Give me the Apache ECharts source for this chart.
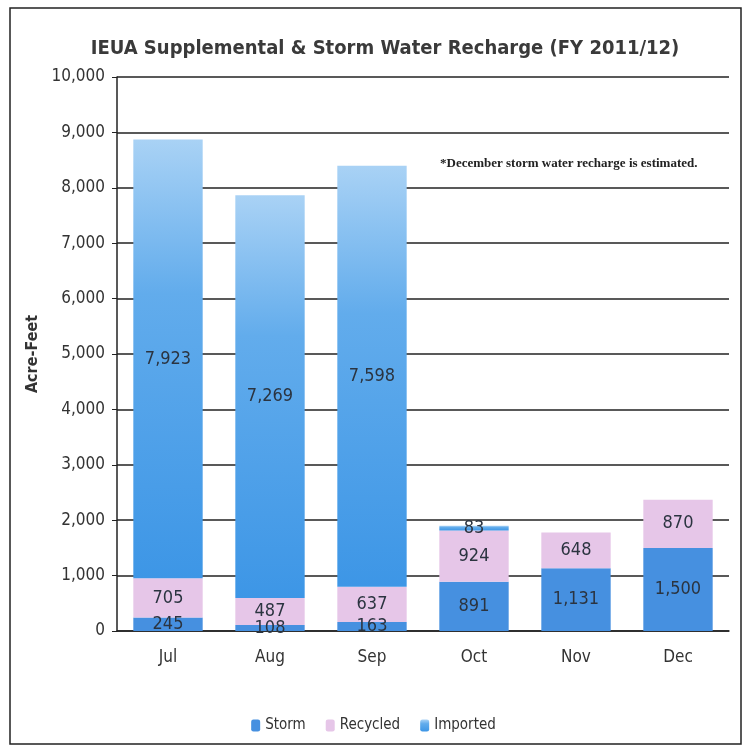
<!DOCTYPE html>
<html><head><meta charset="utf-8">
<script src="https://cdn.jsdelivr.net/npm/echarts@6/dist/echarts.min.js"></script>
<style>html,body{margin:0;padding:0;background:#fff}#c{width:747px;height:750px}</style>
</head><body><div id="c"></div>
<script>
const categories = ['Jul','Aug','Sep','Oct','Nov','Dec'];
const storm = [245, 108, 163, 891, 1131, 1500];
const recycled = [705, 487, 637, 924, 648, 870];
const imported = [7923, 7269, 7598, 83, 0, 0];
const yTicks = [0, 1000, 2000, 3000, 4000, 5000, 6000, 7000, 8000, 9000, 10000];

const FONT = "'DejaVu Sans Condensed','Liberation Sans Narrow',sans-serif";
const fmt = v => v.toLocaleString('en-US');
const lbl = {show:true, position:'inside', color:'#2b3440', fontFamily:FONT, fontSize:18,
  formatter: p => p.value ? fmt(p.value) : ''};

const chart = echarts.init(document.getElementById('c'));
chart.setOption({
  animation:false,
  backgroundColor:'#fff',
  title:{text:'IEUA Supplemental & Storm Water Recharge (FY 2011/12)', left:380, top:34, textAlign:'center',
    textStyle:{fontFamily:FONT, fontSize:20, fontWeight:'bold', color:'#3a3a3a'}},
  legend:{bottom:12, left:'center', itemWidth:9, itemHeight:12, itemGap:20,
    textStyle:{fontFamily:FONT, fontSize:15, color:'#333'},
    data:['Storm','Recycled','Imported']},
  grid:{left:117, right:18, top:77, bottom:119},
  xAxis:{type:'category', data:categories,
    axisLine:{lineStyle:{color:'#222', width:1.5}}, axisTick:{show:false},
    axisLabel:{fontFamily:FONT, fontSize:17, color:'#333', margin:18}},
  yAxis:{type:'value', min:0, max:10000, interval:1000,
    name:'Acre-Feet', nameLocation:'middle', nameGap:68, nameRotate:90,
    nameTextStyle:{fontFamily:FONT, fontSize:16, fontWeight:'bold', color:'#333'},
    axisLine:{show:true, lineStyle:{color:'#222', width:1.5}},
    axisTick:{show:true, inside:false, length:5, lineStyle:{color:'#222'}},
    splitLine:{lineStyle:{color:'#222', width:1.5}},
    axisLabel:{fontFamily:FONT, fontSize:17, color:'#333', margin:12,
      formatter: v => yTicks.includes(v) ? fmt(v) : ''}},
  graphic:[
    {type:'rect', shape:{x:10,y:8,width:731,height:736}, style:{fill:'none', stroke:'#222', lineWidth:1.5}, silent:true},
    {type:'text', left:440, top:157, style:{text:'*December storm water recharge is estimated.',
      font:"bold 13px 'Liberation Serif','DejaVu Serif',serif", fill:'#222'}}
  ],
  series:[
    {name:'Storm', type:'bar', stack:'t', data:storm, barWidth:'68%',
      itemStyle:{color:'#4690e0'}, label:lbl},
    {name:'Recycled', type:'bar', stack:'t', data:recycled,
      itemStyle:{color:'#e6c6e8'}, label:lbl},
    {name:'Imported', type:'bar', stack:'t', data:imported,
      itemStyle:{color:new echarts.graphic.LinearGradient(0,0,0,1,[{offset:0,color:'#a9d2f5'},{offset:0.35,color:'#62acec'},{offset:1,color:'#3d96e6'}])},
      label:lbl}
  ]
});
</script></body></html>
